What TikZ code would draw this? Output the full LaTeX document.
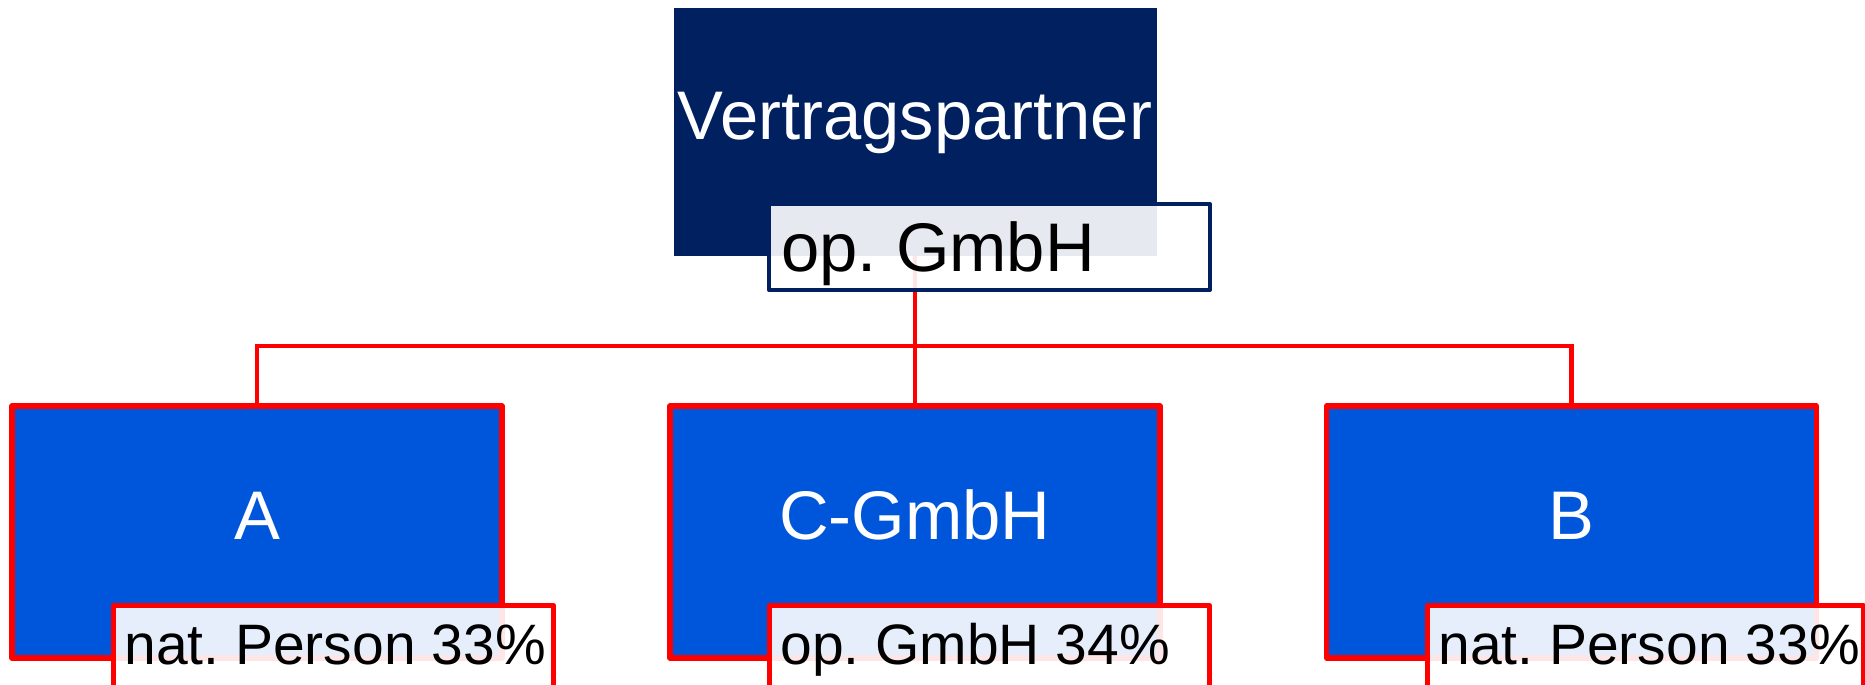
\documentclass[tikz,border=0pt]{standalone}
\usepackage{fontspec}
\setmainfont{Liberation Sans}
\frenchspacing
\definecolor{navy}{RGB}{0,32,96}
\definecolor{firmblue}{RGB}{0,86,219}
\begin{document}
\begin{tikzpicture}[x=1pt,y=1pt,
	firm/.style={fill=firmblue,draw=red,line width=2.6pt,line join=round,minimum width=245pt,minimum height=126pt,inner sep=0pt},
	share/.style={fill=white,fill opacity=0.9,draw=red,line width=2.6pt,line join=round,minimum width=220pt,minimum height=43pt,inner sep=0pt,anchor=north west},
	big/.style={text=white,font=\fontsize{34.4}{40}\selectfont,anchor=base,inner sep=0pt},
	small/.style={font=\fontsize{28.5}{34}\selectfont,anchor=base west,inner sep=0pt}]
	\path[use as bounding box,clip] (0,0) rectangle (932.5,-342.5);
	\node[fill=navy,minimum width=241.5pt,minimum height=124pt,inner sep=0pt] (vp) at (457.5,-66) {};
	\node[firm] (a) at (128.5,-266) {};
	\node[firm] (c) at (457.5,-266) {};
	\node[firm] (b) at (785.75,-266) {};
	\coordinate (bus) at (457.5,-173);
	\draw[red,line width=2.2pt] (vp.south) -- (c.north);
	\draw[red,line width=2.2pt] (a.north) |- (bus) -| (b.north);
	% Anteile
	\node[share,draw=navy,line width=2pt,minimum width=220.5pt] (vpshare) at (383.5,-101) {};
	\node[share] (ashare) at (55.5,-301.5) {};
	\node[share] (cshare) at (383.5,-301.5) {};
	\node[share,minimum width=218pt] (bshare) at (712.5,-301.5) {};
	\node[big] (vptext) at ([yshift=-3.5pt]vp.center) {Vertragspartner};
	\node[big] (atext) at ([yshift=-3.5pt]a.center) {A};
	\node[big] (ctext) at ([yshift=-3.5pt]c.center) {C-GmbH};
	\node[big] (btext) at ([yshift=-3.5pt]b.center) {B};
	\node[small,font=\fontsize{34.4}{40}\selectfont] (vpsharetext) at ([xshift=7pt,yshift=-12pt]vpshare.west) {op. GmbH};
	\node[small] (asharetext) at ([xshift=6.5pt,yshift=-8pt]ashare.west) {nat. Person 33\%};
	\node[small] (csharetext) at ([xshift=6.5pt,yshift=-8pt]cshare.west) {op. GmbH 34\%};
	\node[small] (bsharetext) at ([xshift=6.5pt,yshift=-8pt]bshare.west) {nat. Person 33\%};
\end{tikzpicture}
\end{document}
